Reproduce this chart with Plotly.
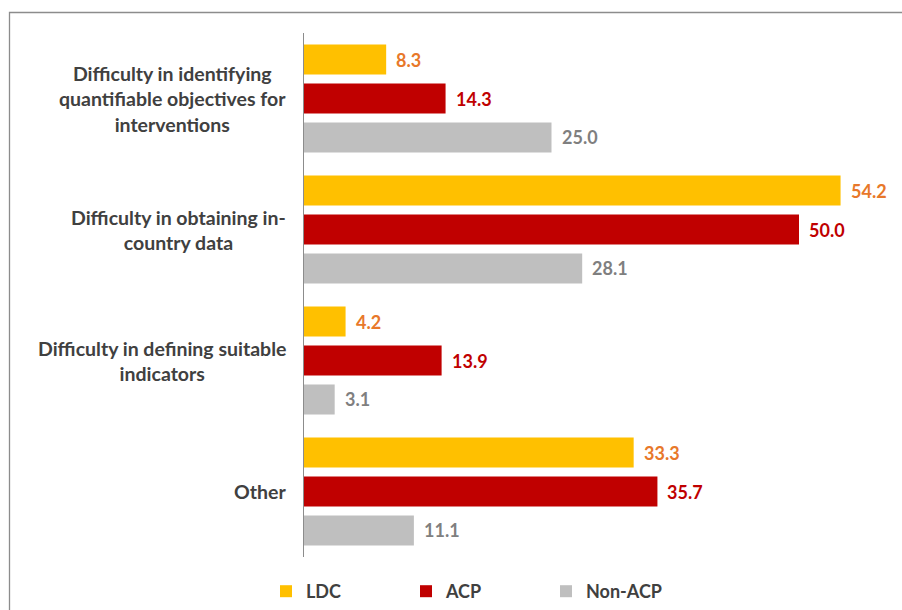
import plotly.graph_objects as go

# Survey shares (%) by difficulty type and country group
categories = [
    "Difficulty in identifying<br>quantifiable objectives for<br>interventions",
    "Difficulty in obtaining in-<br>country data",
    "Difficulty in defining suitable<br>indicators",
    "Other",
]
series_names = ["LDC", "ACP", "Non-ACP"]
ldc = [8.3, 54.2, 4.2, 33.3]
acp = [14.3, 50.0, 13.9, 35.7]
non_acp = [25.0, 28.1, 3.1, 11.1]

bar_colors = ["#FFC000", "#C00000", "#BFBFBF"]
label_colors = ["#E8782A", "#C00000", "#7F7F7F"]
FONT = "Lato"

W, H = 902, 610
ML, MR, MT, MB = 304, 4, 33, 53
plot_w = W - ML - MR
plot_h = H - MT - MB

fig = go.Figure()
cat_keys = list(range(len(categories)))
for name, vals, col in zip(series_names, [ldc, acp, non_acp], bar_colors):
    fig.add_trace(go.Bar(
        y=cat_keys, x=vals, name=name, orientation="h",
        marker=dict(color=col, line=dict(width=0)),
        hoverinfo="x+name",
    ))

# value labels placed just past each bar end
annotations = []
n = len(series_names)
group_frac = 0.893
slot = group_frac / n
for i, (vals, lc) in enumerate(zip([ldc, acp, non_acp], label_colors)):
    for j, v in enumerate(vals):
        yoff = -group_frac / 2 + slot * (i + 0.5)
        annotations.append(dict(
            x=v, y=j + yoff, xref="x", yref="y",
            text=f"{v:.1f}", showarrow=False, xanchor="left", xshift=8,
            font=dict(family=FONT, size=18, color=lc, weight="bold"),
        ))

# category labels: centred lines in a block ending just left of the axis
for j, cat in enumerate(categories):
    annotations.append(dict(
        x=0, y=j, xref="paper", yref="y", text=cat, showarrow=False,
        xanchor="right", align="center", xshift=-16,
        font=dict(family=FONT, size=19.5, color="#404040", weight="bold"),
    ))

# outer frame
def px_x(p):
    return (p - ML) / plot_w

def px_y(p):
    return 1 - (p - MT) / plot_h

shapes = [dict(
    type="rect", xref="paper", yref="paper",
    x0=px_x(9.5), x1=px_x(W + 20), y0=px_y(H + 20), y1=px_y(12.5),
    line=dict(color="#8C8C8C", width=1.3), fillcolor="rgba(0,0,0,0)",
    layer="below",
)]

fig.update_layout(
    width=W, height=H,
    margin=dict(l=ML, r=MR, t=MT, b=MB),
    paper_bgcolor="white", plot_bgcolor="white",
    barmode="group", bargap=0.107, bargroupgap=0.23,
    xaxis=dict(range=[0, 60], visible=False),
    yaxis=dict(
        range=[3.5, -0.5], showticklabels=False, ticks="",
        showgrid=False, zeroline=False,
        showline=True, linecolor="#8C8C8C", linewidth=1.3,
    ),
    showlegend=True,
    legend=dict(
        orientation="h", xref="container", yref="container",
        x=266 / W, y=1 - 573 / H, xanchor="left", yanchor="top",
        font=dict(family=FONT, size=18, color="#404040", weight="bold"),
        entrywidth=95, itemclick=False, itemdoubleclick=False,
        bgcolor="rgba(0,0,0,0)",
    ),
    annotations=annotations,
    shapes=shapes,
)

fig.write_html("out.html")
